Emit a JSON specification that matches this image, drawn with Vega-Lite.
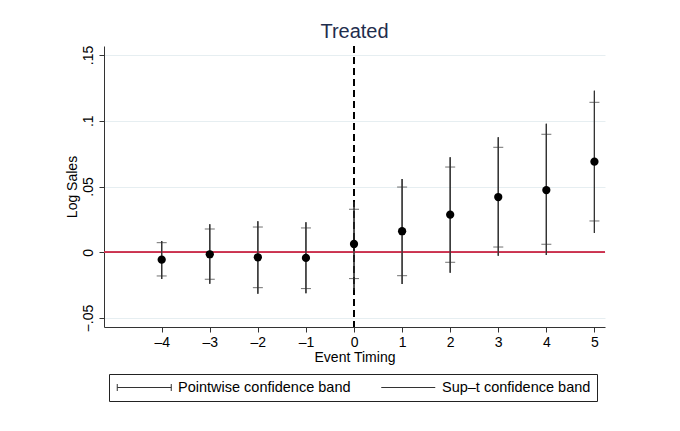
{
  "$schema": "https://vega.github.io/schema/vega-lite/v6.json",
  "width": 501,
  "height": 281,
  "autosize": {"type": "none"},
  "padding": {"left": 104, "top": 46, "right": 75, "bottom": 104},
  "background": "white",
  "title": {"text": "Treated", "fontSize": 20, "font": "Liberation Sans", "fontWeight": "normal", "color": "#1f2d4d", "anchor": "middle", "baseline": "alphabetic", "offset": 9, "dy": 22},
  "config": {
    "view": {"stroke": null},
    "axis": {"labelFont": "Liberation Sans", "titleFont": "Liberation Sans", "labelFontSize": 14, "titleFontSize": 14, "labelColor": "black", "titleColor": "black", "titleFontWeight": "normal", "domainColor": "#333", "tickColor": "#333", "tickSize": 5, "domainWidth": 1, "tickWidth": 1}
  },
  "data": {"values": [
    {"t": -4, "est": -0.0056, "pw_lo": -0.0180, "pw_hi": 0.0073, "sup_lo": -0.0203, "sup_hi": 0.0086},
    {"t": -3, "est": -0.0015, "pw_lo": -0.0205, "pw_hi": 0.0177, "sup_lo": -0.0239, "sup_hi": 0.0213},
    {"t": -2, "est": -0.0038, "pw_lo": -0.0269, "pw_hi": 0.0192, "sup_lo": -0.0315, "sup_hi": 0.0236},
    {"t": -1, "est": -0.0043, "pw_lo": -0.0276, "pw_hi": 0.0185, "sup_lo": -0.0312, "sup_hi": 0.0228},
    {"t": 0, "est": 0.0063, "pw_lo": -0.0200, "pw_hi": 0.0327, "sup_lo": -0.0286, "sup_hi": 0.0385},
    {"t": 1, "est": 0.0160, "pw_lo": -0.0178, "pw_hi": 0.0496, "sup_lo": -0.0241, "sup_hi": 0.0557},
    {"t": 2, "est": 0.0286, "pw_lo": -0.0076, "pw_hi": 0.0648, "sup_lo": -0.0155, "sup_hi": 0.0722},
    {"t": 3, "est": 0.0420, "pw_lo": 0.0040, "pw_hi": 0.0798, "sup_lo": -0.0026, "sup_hi": 0.0874},
    {"t": 4, "est": 0.0473, "pw_lo": 0.0061, "pw_hi": 0.0897, "sup_lo": -0.0021, "sup_hi": 0.0977},
    {"t": 5, "est": 0.0689, "pw_lo": 0.0238, "pw_hi": 0.1140, "sup_lo": 0.0147, "sup_hi": 0.1228}
  ]},
  "layer": [
    {
      "mark": {"type": "rule", "color": "#333", "strokeWidth": 1.2},
      "encoding": {
        "x": {"field": "t", "type": "quantitative", "title": "Event Timing",
              "scale": {"domain": [-5.2, 5.22], "nice": false, "zero": false},
              "axis": {"values": [-4, -3, -2, -1, 0, 1, 2, 3, 4, 5], "grid": false, "labelPadding": 3, "titlePadding": 1,
                       "labelExpr": "datum.value < 0 ? '–' + abs(datum.value) : '' + datum.value"}},
        "y": {"field": "sup_lo", "type": "quantitative", "title": "Log Sales",
              "scale": {"domain": [-0.0568, 0.1568], "nice": false, "zero": false},
              "axis": {"values": [-0.05, 0, 0.05, 0.1, 0.15], "grid": true, "gridColor": "#e6eef1", "gridWidth": 1,
                       "labelAngle": -90, "labelAlign": "center", "labelBaseline": "alphabetic", "labelPadding": 6.5, "titlePadding": 2,
                       "labelExpr": "datum.value == 0 ? '0' : replace(replace(format(datum.value, '.2~f'), '0.', '.'), '-', '–')"}},
        "y2": {"field": "sup_hi"}
      }
    },
    {
      "mark": {"type": "rule", "color": "#cc3350", "strokeWidth": 1},
      "encoding": {"y": {"datum": 0, "type": "quantitative"}}
    },
    {
      "mark": {"type": "rule", "color": "black", "strokeWidth": 1, "strokeDash": [7, 4]},
      "encoding": {"x": {"datum": 0, "type": "quantitative"}}
    },
    {
      "mark": {"type": "rule", "color": "#333", "strokeWidth": 1.2},
      "encoding": {
        "x": {"field": "t", "type": "quantitative"},
        "y": {"field": "sup_lo", "type": "quantitative"},
        "y2": {"field": "sup_hi"}
      }
    },
    {
      "mark": {"type": "tick", "orient": "horizontal", "color": "#333", "size": 10, "thickness": 1},
      "encoding": {
        "x": {"field": "t", "type": "quantitative"},
        "y": {"field": "pw_lo", "type": "quantitative"}
      }
    },
    {
      "mark": {"type": "tick", "orient": "horizontal", "color": "#333", "size": 10, "thickness": 1},
      "encoding": {
        "x": {"field": "t", "type": "quantitative"},
        "y": {"field": "pw_hi", "type": "quantitative"}
      }
    },
    {
      "mark": {"type": "circle", "color": "black", "size": 68, "opacity": 1},
      "encoding": {
        "x": {"field": "t", "type": "quantitative"},
        "y": {"field": "est", "type": "quantitative"}
      }
    },
    {
      "data": {"values": [{"band": "Pointwise confidence band"}, {"band": "Sup–t confidence band"}]},
      "mark": {"type": "point", "filled": false, "opacity": 0, "size": 100, "strokeWidth": 1, "color": "#333"},
      "encoding": {
        "shape": {"field": "band", "type": "nominal",
          "scale": {"domain": ["Pointwise confidence band", "Sup–t confidence band"],
                    "range": ["M-5.4,0H5.4M-5.4,-0.7V0.7M5.4,-0.7V0.7", "M-5.4,0H5.4"]},
          "legend": {"orient": "none", "legendX": 5, "legendY": 328, "direction": "horizontal", "title": null,
                     "strokeColor": "#222", "padding": 6, "columnPadding": 28, "symbolSize": 100, "symbolOffset": 22,
                     "labelOffset": 26.5, "labelLimit": 0, "labelFont": "Liberation Sans", "labelFontSize": 14.5, "labelColor": "black",
                     "symbolStrokeWidth": 1, "symbolStrokeColor": "#333", "symbolFillColor": "transparent", "symbolOpacity": 1, "clipHeight": 15}}
      }
    }
  ]
}
